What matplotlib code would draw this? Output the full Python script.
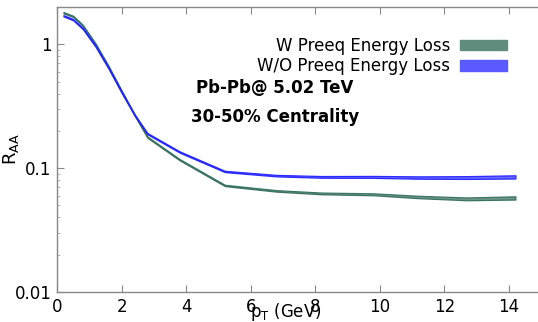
import matplotlib
matplotlib.use("Agg")
import matplotlib.pyplot as plt
from matplotlib.patches import Patch
import numpy as np

pt = [0.2, 0.5, 0.8, 1.2, 1.6, 2.0, 2.4, 2.8, 3.8, 5.2, 6.8, 8.2, 9.8, 11.2, 12.7, 14.2]

raa_w_preeq = [1.80, 1.68, 1.42, 1.00, 0.66, 0.42, 0.27, 0.178, 0.117, 0.0725,
               0.0655, 0.0625, 0.0615, 0.0585, 0.0565, 0.0575]
raa_wo_preeq = [1.70, 1.58, 1.34, 0.96, 0.64, 0.41, 0.27, 0.190, 0.135, 0.094,
                0.087, 0.085, 0.085, 0.084, 0.084, 0.085]

# relative half-width of the uncertainty bands
rel_err_w = [0.012, 0.012, 0.012, 0.012, 0.012, 0.012, 0.012, 0.012, 0.012, 0.012,
             0.014, 0.016, 0.018, 0.022, 0.026, 0.030]
rel_err_wo = [0.012, 0.012, 0.012, 0.012, 0.012, 0.012, 0.012, 0.012, 0.012, 0.012,
              0.014, 0.016, 0.018, 0.022, 0.026, 0.030]

labels = ["W Preeq Energy Loss", "W/O Preeq Energy Loss"]
face_colors = ["#5f8c7d", "#5a5aff"]
edge_colors = ["#2f6b5a", "#1c1cff"]

fig = plt.figure(figsize=(5.38, 3.22), dpi=100)
ax = fig.add_axes([57 / 538, 30 / 322, 481 / 538, 285 / 322])

x = np.array(pt)
for vals, err, fc, ec in [(raa_w_preeq, rel_err_w, face_colors[0], edge_colors[0]),
                          (raa_wo_preeq, rel_err_wo, face_colors[1], edge_colors[1])]:
    v = np.array(vals)
    e = np.array(err)
    ax.fill_between(x, v * (1 - e), v * (1 + e), facecolor=fc, edgecolor=ec,
                    linewidth=0.9, alpha=0.9)

ax.set_yscale("log")
ax.set_xlim(0, 14.9)
ax.set_ylim(0.01, 2.0)
ax.set_xticks([0, 2, 4, 6, 8, 10, 12, 14])
ax.set_yticks([0.01, 0.1, 1])
ax.set_yticklabels(["0.01", "0.1", "1"])

for side in ["left", "bottom", "top"]:
    ax.spines[side].set_color("#888888")
    ax.spines[side].set_linewidth(1.0)
ax.spines["right"].set_visible(False)

ax.tick_params(axis="x", which="both", direction="in", top=True, bottom=True,
               color="#888888", labelsize=12, pad=4, length=5)
ax.tick_params(axis="y", which="major", direction="in", left=True, right=False,
               color="#888888", labelsize=12, pad=4, length=5)
ax.tick_params(axis="y", which="minor", direction="in", left=True, right=False,
               color="#aaaaaa", length=2.5)

ax.set_xlabel(r"p$_\mathrm{T}$ (GeV)", fontsize=12)
ax.xaxis.set_label_coords(0.475, -0.032)
ax.set_ylabel(r"R$_\mathrm{AA}$", fontsize=13)
ax.yaxis.set_label_coords(-0.075, 0.5)

handles = [Patch(facecolor=face_colors[0], edgecolor=face_colors[0]),
           Patch(facecolor=face_colors[1], edgecolor=face_colors[1])]
leg = ax.legend(handles, labels, loc="upper right", bbox_to_anchor=(0.935, 0.895),
                frameon=False, fontsize=12, markerfirst=False, handlelength=2.8,
                handleheight=0.6, labelspacing=0.15, handletextpad=0.6,
                borderpad=0, borderaxespad=0)

ax.text(0.453, 0.716, "Pb-Pb@ 5.02 TeV", transform=ax.transAxes, fontsize=12,
        fontweight="bold", ha="center", va="center")
ax.text(0.453, 0.614, "30-50% Centrality", transform=ax.transAxes, fontsize=12,
        fontweight="bold", ha="center", va="center")

fig.savefig("out.png", dpi=100)
